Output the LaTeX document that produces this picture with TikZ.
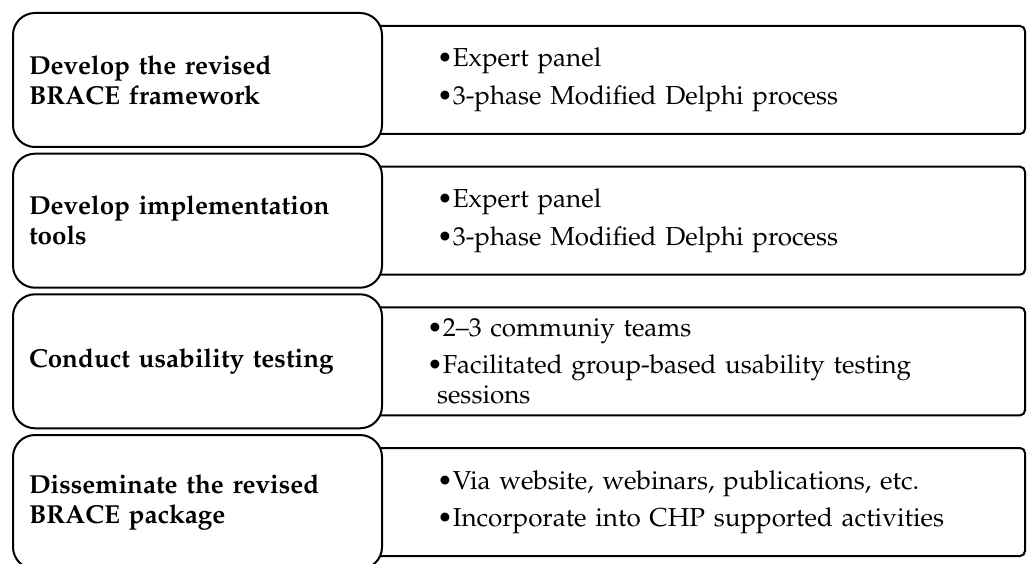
\documentclass[tikz,border=0pt]{standalone}
\usepackage[T1]{fontenc}
\usepackage{mathpazo}
\usepackage{tikz}
\tikzset{
  stage/.style={draw, line width=2pt, fill=white, rounded corners=22pt,
    minimum width=369pt, minimum height=134pt, text width=337pt, align=left,
    font=\fontsize{26}{30}\selectfont\bfseries},
  detail/.style={draw, line width=2pt, rounded corners=5pt,
    minimum width=653pt, minimum height=108pt, text width=523pt, align=left,
    font=\fontsize{26}{30}\selectfont}
}

\begin{document}
\begin{tikzpicture}[x=1pt, y=-1pt]
\useasboundingbox (0,0) rectangle (1027,564);

\node[detail] (tasks-1) at (698.5,80) {\textbullet Expert panel\\[8pt]\textbullet 3-phase Modified Delphi process};
\node[detail] (tasks-2) at (698.5,220.7) {\textbullet Expert panel\\[8pt]\textbullet 3-phase Modified Delphi process};
\node[detail, text width=543pt] (tasks-3) at (698.5,361.3) {\textbullet 2--3 communiy teams\\[7pt]\textbullet Facilitated group-based usability testing\\\hspace*{10pt}sessions};
\node[detail] (tasks-4) at (698.5,502) {\textbullet Via website, webinars, publications, etc.\\[7pt]\textbullet Incorporate into CHP supported activities};

\node[stage] (step-1) at (197.5,80) {Develop the revised\\BRACE framework};
\node[stage] (step-2) at (197.5,220.7) {Develop implementation\\tools};
\node[stage] (step-3) at (197.5,361.3) {Conduct usability testing};
\node[stage] (step-4) at (197.5,502) {Disseminate the revised\\BRACE package};
\end{tikzpicture}
\end{document}
